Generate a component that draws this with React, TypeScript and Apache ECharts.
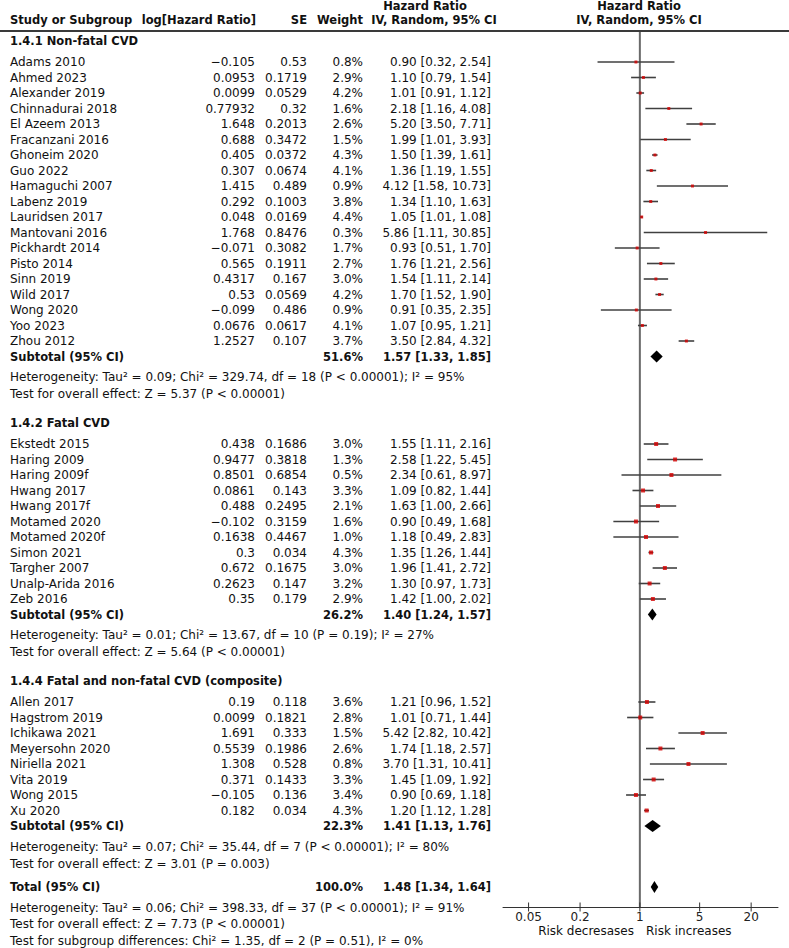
import React, { useEffect, useRef } from "react";
import * as echarts from "echarts";

// ---------- DATA ----------
const groupTitles = ["1.4.1 Non-fatal CVD", "1.4.2 Fatal CVD", "1.4.4 Fatal and non-fatal CVD (composite)"];

const g1Studies = ["Adams 2010", "Ahmed 2023", "Alexander 2019", "Chinnadurai 2018", "El Azeem 2013", "Fracanzani 2016", "Ghoneim 2020", "Guo 2022", "Hamaguchi 2007", "Labenz 2019", "Lauridsen 2017", "Mantovani 2016", "Pickhardt 2014", "Pisto 2014", "Sinn 2019", "Wild 2017", "Wong 2020", "Yoo 2023", "Zhou 2012"];
const g1LogHR = [-0.105, 0.0953, 0.0099, 0.77932, 1.648, 0.688, 0.405, 0.307, 1.415, 0.292, 0.048, 1.768, -0.071, 0.565, 0.4317, 0.53, -0.099, 0.0676, 1.2527];
const g1SE = [0.53, 0.1719, 0.0529, 0.32, 0.2013, 0.3472, 0.0372, 0.0674, 0.489, 0.1003, 0.0169, 0.8476, 0.3082, 0.1911, 0.167, 0.0569, 0.486, 0.0617, 0.107];
const g1Weight = [0.8, 2.9, 4.2, 1.6, 2.6, 1.5, 4.3, 4.1, 0.9, 3.8, 4.4, 0.3, 1.7, 2.7, 3.0, 4.2, 0.9, 4.1, 3.7];
const g1HR = [0.9, 1.1, 1.01, 2.18, 5.2, 1.99, 1.5, 1.36, 4.12, 1.34, 1.05, 5.86, 0.93, 1.76, 1.54, 1.7, 0.91, 1.07, 3.5];
const g1Lo = [0.32, 0.79, 0.91, 1.16, 3.5, 1.01, 1.39, 1.19, 1.58, 1.1, 1.01, 1.11, 0.51, 1.21, 1.11, 1.52, 0.35, 0.95, 2.84];
const g1Hi = [2.54, 1.54, 1.12, 4.08, 7.71, 3.93, 1.61, 1.55, 10.73, 1.63, 1.08, 30.85, 1.7, 2.56, 2.14, 1.9, 2.35, 1.21, 4.32];

const g2Studies = ["Ekstedt 2015", "Haring 2009", "Haring 2009f", "Hwang 2017", "Hwang 2017f", "Motamed 2020", "Motamed 2020f", "Simon 2021", "Targher 2007", "Unalp-Arida 2016", "Zeb 2016"];
const g2LogHR = [0.438, 0.9477, 0.8501, 0.0861, 0.488, -0.102, 0.1638, 0.3, 0.672, 0.2623, 0.35];
const g2SE = [0.1686, 0.3818, 0.6854, 0.143, 0.2495, 0.3159, 0.4467, 0.034, 0.1675, 0.147, 0.179];
const g2Weight = [3.0, 1.3, 0.5, 3.3, 2.1, 1.6, 1.0, 4.3, 3.0, 3.2, 2.9];
const g2HR = [1.55, 2.58, 2.34, 1.09, 1.63, 0.9, 1.18, 1.35, 1.96, 1.3, 1.42];
const g2Lo = [1.11, 1.22, 0.61, 0.82, 1.0, 0.49, 0.49, 1.26, 1.41, 0.97, 1.0];
const g2Hi = [2.16, 5.45, 8.97, 1.44, 2.66, 1.68, 2.83, 1.44, 2.72, 1.73, 2.02];

const g3Studies = ["Allen 2017", "Hagstrom 2019", "Ichikawa 2021", "Meyersohn 2020", "Niriella 2021", "Vita 2019", "Wong 2015", "Xu 2020"];
const g3LogHR = [0.19, 0.0099, 1.691, 0.5539, 1.308, 0.371, -0.105, 0.182];
const g3SE = [0.118, 0.1821, 0.333, 0.1986, 0.528, 0.1433, 0.136, 0.034];
const g3Weight = [3.6, 2.8, 1.5, 2.6, 0.8, 3.3, 3.4, 4.3];
const g3HR = [1.21, 1.01, 5.42, 1.74, 3.7, 1.45, 0.9, 1.2];
const g3Lo = [0.96, 0.71, 2.82, 1.18, 1.31, 1.09, 0.69, 1.12];
const g3Hi = [1.52, 1.44, 10.42, 2.57, 10.41, 1.92, 1.18, 1.28];

const subtotalWeight = [51.6, 26.2, 22.3];
const subtotalHR = [1.57, 1.4, 1.41];
const subtotalLo = [1.33, 1.24, 1.13];
const subtotalHi = [1.85, 1.57, 1.76];
const heterogeneityTexts = [
  "Heterogeneity: Tau² = 0.09; Chi² = 329.74, df = 18 (P < 0.00001); I² = 95%",
  "Heterogeneity: Tau² = 0.01; Chi² = 13.67, df = 10 (P = 0.19); I² = 27%",
  "Heterogeneity: Tau² = 0.07; Chi² = 35.44, df = 7 (P < 0.00001); I² = 80%",
];
const overallEffectTexts = [
  "Test for overall effect: Z = 5.37 (P < 0.00001)",
  "Test for overall effect: Z = 5.64 (P < 0.00001)",
  "Test for overall effect: Z = 3.01 (P = 0.003)",
];

const totalWeight = 100.0;
const totalHR = 1.48;
const totalLo = 1.34;
const totalHi = 1.64;
const totalTexts = [
  "Heterogeneity: Tau² = 0.06; Chi² = 398.33, df = 37 (P < 0.00001); I² = 91%",
  "Test for overall effect: Z = 7.73 (P < 0.00001)",
  "Test for subgroup differences: Chi² = 1.35, df = 2 (P = 0.51), I² = 0%",
];

const tickValues = [0.05, 0.2, 1, 5, 20];
const tickLabels = ["0.05", "0.2", "1", "5", "20"];
const favourLeft = "Risk decresases";
const favourRight = "Risk increases";

// ---------- LAYOUT ----------
const W = 789;
const H = 948;
const PLOT_LEFT = 503;
const PLOT_RIGHT = 778;
const AXIS_Y = 907;
const X_MIN = -1.6;
const X_MAX = 1.615;
const HEADER_LINE_Y = 31;

const FONT = "'DejaVu Sans', Verdana, sans-serif";
const REG = `12px ${FONT}`;
const BOLD = `bold 11.5px ${FONT}`;

const COL_STUDY = 10;
const COL_LOG = 255;
const COL_SE = 307;
const COL_W = 363;
const COL_CI = 491;

const groups = [
  { studies: g1Studies, logHR: g1LogHR, se: g1SE, w: g1Weight, hr: g1HR, lo: g1Lo, hi: g1Hi, sq: 3 },
  { studies: g2Studies, logHR: g2LogHR, se: g2SE, w: g2Weight, hr: g2HR, lo: g2Lo, hi: g2Hi, sq: 4 },
  { studies: g3Studies, logHR: g3LogHR, se: g3SE, w: g3Weight, hr: g3HR, lo: g3Lo, hi: g3Hi, sq: 4 },
];

const fmtNum = (v: number) => (v < 0 ? "\u2212" + String(-v) : String(v));
const fmtCI = (h: number, l: number, u: number) => `${h.toFixed(2)} [${l.toFixed(2)}, ${u.toFixed(2)}]`;
const lg = (v: number) => Math.log10(v);

function buildOption() {
  const texts: any[] = [];
  const T = (x: number, y: number, text: string, align: string, bold = false, lineHeight?: number) => {
    const style: any = {
      text,
      font: bold ? BOLD : REG,
      fill: "#111",
      textAlign: align,
      textVerticalAlign: "middle",
      align,
      verticalAlign: "middle",
    };
    if (lineHeight) style.lineHeight = lineHeight;
    texts.push({ type: "text", silent: true, x, y, style });
  };

  // headers
  T(425, 6, "Hazard Ratio", "center", true);
  T(434, 20, "IV, Random, 95% CI", "center", true);
  T(639, 6, "Hazard Ratio", "center", true);
  T(639, 20, "IV, Random, 95% CI", "center", true);
  T(COL_STUDY, 20, "Study or Subgroup", "left", true);
  T(COL_LOG + 1, 20, "log[Hazard Ratio]", "right", true);
  T(COL_SE, 20, "SE", "right", true);
  T(COL_W, 20, "Weight", "right", true);

  const ciLines: any[] = [];
  const squares: any[][] = [[], [], []];
  const diamonds: any[] = [];

  let y = 41;
  groups.forEach((g, gi) => {
    T(COL_STUDY, y, groupTitles[gi], "left", true);
    y += 21;
    g.studies.forEach((name, i) => {
      T(COL_STUDY, y, name, "left");
      T(COL_LOG, y, fmtNum(g.logHR[i]), "right");
      T(COL_SE, y, String(g.se[i]), "right");
      T(COL_W, y, g.w[i].toFixed(1) + "%", "right");
      T(COL_CI, y, fmtCI(g.hr[i], g.lo[i], g.hi[i]), "right");
      ciLines.push([lg(g.lo[i]), lg(g.hi[i]), y]);
      squares[gi].push([lg(g.hr[i]), y]);
      if (i < g.studies.length - 1) y += 15.5;
    });
    y += 15.5;
    T(COL_STUDY, y, "Subtotal (95% CI)", "left", true);
    T(COL_W, y, subtotalWeight[gi].toFixed(1) + "%", "right", true);
    T(COL_CI, y, fmtCI(subtotalHR[gi], subtotalLo[gi], subtotalHi[gi]), "right", true);
    diamonds.push([lg(subtotalLo[gi]), lg(subtotalHR[gi]), lg(subtotalHi[gi]), y]);
    y += 20.5;
    T(COL_STUDY, y, heterogeneityTexts[gi], "left");
    y += 17;
    T(COL_STUDY, y, overallEffectTexts[gi], "left");
    y += 29;
  });
  y -= 29;
  y += 23.5;
  T(COL_STUDY, y, "Total (95% CI)", "left", true);
  T(COL_W, y, totalWeight.toFixed(1) + "%", "right", true);
  T(COL_CI, y, fmtCI(totalHR, totalLo, totalHi), "right", true);
  diamonds.push([lg(totalLo), lg(totalHR), lg(totalHi), y]);
  y += 20.5;
  T(COL_STUDY, y, totalTexts[0], "left");
  y += 16.5;
  T(COL_STUDY, y, totalTexts[1], "left");
  y += 16.5;
  T(COL_STUDY, y, totalTexts[2], "left");

  // favour labels
  T(634, 931, favourLeft, "right", false, 12);
  T(646, 931, favourRight, "left", false, 12);

  // header rule (full page width)
  texts.push({
    type: "line",
    id: "headerRule",
    z: 50,
    shape: { x1: 0, y1: HEADER_LINE_Y, x2: W, y2: HEADER_LINE_Y },
    style: { stroke: "#3a3a3a", lineWidth: 2 },
  });

  const tickLogs = tickValues.map(lg);

  const series: any[] = [
    // null line
    {
      type: "custom",
      silent: true,
      data: [[0, HEADER_LINE_Y, AXIS_Y]],
      renderItem: (params: any, api: any) => {
        const p1 = api.coord([api.value(0), api.value(1)]);
        const p2 = api.coord([api.value(0), api.value(2)]);
        return {
          type: "line",
          shape: { x1: p1[0], y1: p1[1], x2: p2[0], y2: p2[1] },
          style: { stroke: "#6a6a6a", lineWidth: 2 },
        };
      },
      z: 1,
    },
    // axis ticks crossing the axis line
    {
      type: "custom",
      silent: true,
      clip: false,
      data: tickLogs.map((t) => [t, AXIS_Y]),
      renderItem: (params: any, api: any) => {
        const p = api.coord([api.value(0), api.value(1)]);
        return {
          type: "line",
          shape: { x1: p[0], y1: p[1] - 4.5, x2: p[0], y2: p[1] + 4.5 },
          style: { stroke: "#333", lineWidth: 1 },
        };
      },
      z: 3,
    },
    // confidence interval lines
    {
      type: "custom",
      silent: true,
      data: ciLines,
      renderItem: (params: any, api: any) => {
        const p1 = api.coord([api.value(0), api.value(2)]);
        const p2 = api.coord([api.value(1), api.value(2)]);
        return {
          type: "line",
          shape: { x1: p1[0], y1: p1[1], x2: p2[0], y2: p2[1] },
          style: { stroke: "#404040", lineWidth: 1.6 },
        };
      },
      z: 2,
    },
    // diamonds
    {
      type: "custom",
      silent: true,
      data: diamonds,
      renderItem: (params: any, api: any) => {
        const yv = api.value(3);
        const l = api.coord([api.value(0), yv]);
        const c = api.coord([api.value(1), yv]);
        const r = api.coord([api.value(2), yv]);
        return {
          type: "polygon",
          shape: {
            points: [
              [l[0], l[1]],
              [c[0], c[1] - 6],
              [r[0], r[1]],
              [c[0], c[1] + 6],
            ],
          },
          style: { fill: "#000" },
        };
      },
      z: 4,
    },
    ...squares.map((d, gi) => ({
      type: "scatter",
      silent: true,
      data: d,
      symbol: "rect",
      symbolSize: groups[gi].sq,
      itemStyle: { color: "#d40000" },
      z: 5,
    })),
  ];

  return {
    animation: false,
    grid: { left: PLOT_LEFT, width: PLOT_RIGHT - PLOT_LEFT, top: 0, height: AXIS_Y, containLabel: false },
    xAxis: {
      type: "value",
      min: X_MIN,
      max: X_MAX,
      position: "bottom",
      axisLine: { show: true, onZero: false, lineStyle: { color: "#333", width: 1 } },
      axisTick: { show: false },
      splitLine: { show: false },
      axisLabel: {
        show: true,
        customValues: tickLogs,
        margin: 4,
        color: "#222",
        fontFamily: FONT,
        fontSize: 12,
        lineHeight: 12,
        formatter: (v: number) => {
          let best = 0;
          tickLogs.forEach((t, i) => {
            if (Math.abs(t - v) < Math.abs(tickLogs[best] - v)) best = i;
          });
          return tickLabels[best];
        },
      },
    },
    yAxis: {
      type: "value",
      inverse: true,
      min: 0,
      max: AXIS_Y,
      show: false,
    },
    graphic: { elements: texts },
    series,
  };
}

export default function App() {
  const ref = useRef<HTMLDivElement>(null);
  useEffect(() => {
    document.body.style.margin = "0";
    if (!ref.current) return;
    const chart = echarts.init(ref.current, undefined, { renderer: "svg" });
    chart.setOption(buildOption() as any);
    return () => chart.dispose();
  }, []);
  return (
    <div style={{ position: "absolute", left: 0, top: 0, width: W, height: H, background: "#fff" }}>
      <div ref={ref} style={{ position: "absolute", left: 0, top: 0, width: W, height: H }} />
      <div
        style={{
          position: "absolute",
          left: 0,
          top: HEADER_LINE_Y - 1,
          width: W,
          height: 2,
          background: "#3a3a3a",
          pointerEvents: "none",
        }}
      />
    </div>
  );
}
